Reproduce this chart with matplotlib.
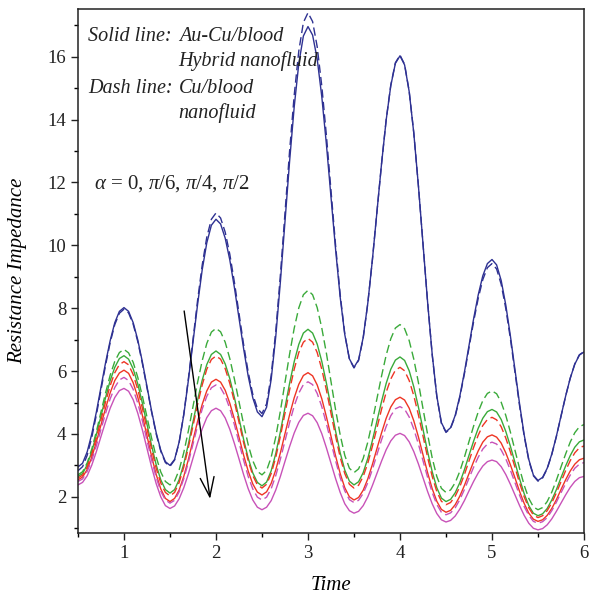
import numpy as np
import matplotlib
matplotlib.use('Agg')
import matplotlib.pyplot as plt
from matplotlib.ticker import MultipleLocator

plt.rcParams['font.family'] = ['Liberation Serif', 'DejaVu Serif']
plt.rcParams['mathtext.fontset'] = 'custom'
plt.rcParams['mathtext.rm'] = 'Liberation Serif'
plt.rcParams['mathtext.it'] = 'Liberation Serif:italic'

# time axis, step 0.05 (111 points)
time = np.linspace(0.5, 6.0, 111)

# blue pair: alpha = 0
blue_solid = [2.95, 3.07, 3.43, 4.00, 4.70, 5.49, 6.27, 6.97, 7.54, 7.90, 8.02,
              7.90, 7.54, 6.99, 6.29, 5.51, 4.73, 4.04, 3.48, 3.12, 3.00,
              3.19, 3.75, 4.61, 5.71, 6.92, 8.12, 9.22, 10.08, 10.64, 10.83,
              10.68, 10.23, 9.54, 8.66, 7.69, 6.72, 5.84, 5.15, 4.70, 4.55,
              4.85, 5.74, 7.11, 8.84, 10.76, 12.67, 14.40, 15.78, 16.66, 16.96,
              16.69, 15.93, 14.73, 13.22, 11.54, 9.87, 8.35, 7.16, 6.39, 6.12,
              6.36, 7.07, 8.16, 9.54, 11.08, 12.61, 13.99, 15.08, 15.79, 16.03,
              15.74, 14.89, 13.57, 11.90, 10.05, 8.20, 6.54, 5.21, 4.36, 4.07,
              4.20, 4.59, 5.20, 5.96, 6.81, 7.66, 8.42, 9.03, 9.42, 9.55,
              9.38, 8.88, 8.10, 7.12, 6.04, 4.95, 3.97, 3.19, 2.69, 2.52,
              2.62, 2.91, 3.36, 3.93, 4.57, 5.20, 5.77, 6.22, 6.51, 6.61]
blue_dash = [2.83, 2.96, 3.32, 3.89, 4.61, 5.40, 6.19, 6.91, 7.48, 7.84, 7.97,
             7.85, 7.49, 6.94, 6.24, 5.47, 4.70, 4.00, 3.45, 3.09, 2.97,
             3.17, 3.74, 4.63, 5.76, 7.00, 8.25, 9.37, 10.26, 10.83, 11.03,
             10.87, 10.42, 9.72, 8.83, 7.84, 6.85, 5.97, 5.26, 4.81, 4.65,
             4.96, 5.87, 7.28, 9.06, 11.03, 13.00, 14.77, 16.18, 17.09, 17.40,
             17.12, 16.32, 15.07, 13.50, 11.75, 10.00, 8.43, 7.18, 6.38, 6.10,
             6.34, 7.05, 8.15, 9.54, 11.08, 12.61, 14.00, 15.10, 15.81, 16.05,
             15.76, 14.90, 13.58, 11.90, 10.05, 8.20, 6.52, 5.20, 4.34, 4.05,
             4.18, 4.56, 5.16, 5.91, 6.74, 7.57, 8.31, 8.91, 9.29, 9.42,
             9.25, 8.76, 7.99, 7.03, 5.96, 4.89, 3.93, 3.16, 2.67, 2.50,
             2.60, 2.89, 3.35, 3.92, 4.56, 5.20, 5.77, 6.23, 6.52, 6.62]
green_dash = [2.70, 2.80, 3.08, 3.52, 4.08, 4.70, 5.31, 5.87, 6.31, 6.59, 6.69,
              6.58, 6.28, 5.80, 5.20, 4.54, 3.87, 3.27, 2.79, 2.49, 2.38,
              2.50, 2.86, 3.41, 4.10, 4.87, 5.64, 6.33, 6.88, 7.24, 7.36,
              7.25, 6.92, 6.40, 5.75, 5.03, 4.31, 3.66, 3.15, 2.81, 2.70,
              2.84, 3.26, 3.91, 4.73, 5.64, 6.54, 7.36, 8.01, 8.43, 8.57,
              8.43, 8.02, 7.37, 6.57, 5.67, 4.77, 3.97, 3.32, 2.91, 2.77,
              2.89, 3.22, 3.74, 4.40, 5.13, 5.85, 6.51, 7.03, 7.37, 7.48,
              7.35, 6.97, 6.38, 5.64, 4.81, 3.99, 3.24, 2.65, 2.27, 2.14,
              2.22, 2.45, 2.81, 3.26, 3.76, 4.25, 4.70, 5.06, 5.29, 5.37,
              5.28, 5.01, 4.59, 4.06, 3.48, 2.90, 2.37, 1.95, 1.68, 1.59,
              1.66, 1.85, 2.15, 2.53, 2.95, 3.36, 3.74, 4.04, 4.23, 4.30]
green_solid = [2.65, 2.74, 3.02, 3.44, 3.98, 4.57, 5.16, 5.70, 6.12, 6.40, 6.49,
               6.38, 6.07, 5.59, 4.98, 4.31, 3.63, 3.02, 2.54, 2.23, 2.12,
               2.23, 2.55, 3.05, 3.68, 4.38, 5.08, 5.71, 6.21, 6.53, 6.64,
               6.53, 6.23, 5.76, 5.16, 4.50, 3.83, 3.23, 2.76, 2.46, 2.35,
               2.47, 2.83, 3.38, 4.07, 4.84, 5.61, 6.30, 6.85, 7.21, 7.33,
               7.21, 6.86, 6.31, 5.62, 4.86, 4.09, 3.40, 2.85, 2.50, 2.38,
               2.48, 2.77, 3.22, 3.79, 4.42, 5.04, 5.61, 6.06, 6.35, 6.45,
               6.34, 6.01, 5.50, 4.86, 4.15, 3.44, 2.80, 2.29, 1.96, 1.85,
               1.92, 2.13, 2.45, 2.86, 3.32, 3.77, 4.18, 4.50, 4.71, 4.78,
               4.70, 4.46, 4.08, 3.61, 3.09, 2.57, 2.10, 1.72, 1.48, 1.40,
               1.46, 1.63, 1.90, 2.23, 2.61, 2.98, 3.31, 3.58, 3.75, 3.81]
red_dash = [2.60, 2.69, 2.95, 3.36, 3.88, 4.45, 5.02, 5.54, 5.95, 6.21, 6.30,
            6.20, 5.89, 5.42, 4.82, 4.17, 3.51, 2.91, 2.44, 2.14, 2.03,
            2.14, 2.46, 2.95, 3.57, 4.26, 4.94, 5.56, 6.06, 6.37, 6.48,
            6.38, 6.08, 5.61, 5.03, 4.38, 3.73, 3.15, 2.68, 2.38, 2.28,
            2.40, 2.74, 3.26, 3.93, 4.66, 5.40, 6.06, 6.59, 6.92, 7.04,
            6.92, 6.59, 6.06, 5.40, 4.66, 3.93, 3.26, 2.74, 2.40, 2.28,
            2.37, 2.65, 3.07, 3.61, 4.20, 4.79, 5.33, 5.75, 6.03, 6.12,
            6.01, 5.70, 5.22, 4.61, 3.94, 3.26, 2.65, 2.17, 1.86, 1.75,
            1.82, 2.02, 2.32, 2.71, 3.14, 3.57, 3.96, 4.27, 4.46, 4.53,
            4.45, 4.23, 3.87, 3.43, 2.94, 2.44, 2.00, 1.65, 1.42, 1.34,
            1.40, 1.56, 1.81, 2.13, 2.48, 2.83, 3.15, 3.40, 3.56, 3.62]
red_solid = [2.54, 2.63, 2.87, 3.26, 3.75, 4.29, 4.82, 5.31, 5.70, 5.94, 6.03,
             5.93, 5.63, 5.17, 4.59, 3.94, 3.29, 2.71, 2.25, 1.95, 1.85,
             1.95, 2.22, 2.65, 3.19, 3.80, 4.40, 4.94, 5.37, 5.65, 5.74,
             5.65, 5.39, 4.98, 4.47, 3.90, 3.33, 2.82, 2.41, 2.15, 2.06,
             2.16, 2.43, 2.86, 3.40, 4.01, 4.61, 5.15, 5.58, 5.86, 5.95,
             5.85, 5.56, 5.12, 4.55, 3.93, 3.30, 2.74, 2.29, 2.00, 1.90,
             1.98, 2.21, 2.57, 3.03, 3.54, 4.04, 4.50, 4.86, 5.09, 5.17,
             5.08, 4.82, 4.42, 3.91, 3.34, 2.77, 2.26, 1.86, 1.60, 1.51,
             1.57, 1.75, 2.02, 2.36, 2.74, 3.12, 3.46, 3.74, 3.91, 3.97,
             3.90, 3.71, 3.40, 3.02, 2.60, 2.17, 1.79, 1.48, 1.29, 1.22,
             1.27, 1.41, 1.63, 1.91, 2.23, 2.54, 2.82, 3.04, 3.18, 3.23]
magenta_dash = [2.49, 2.57, 2.81, 3.17, 3.63, 4.15, 4.66, 5.12, 5.48, 5.72, 5.80,
                5.70, 5.42, 4.98, 4.42, 3.80, 3.18, 2.62, 2.18, 1.90, 1.80,
                1.89, 2.16, 2.58, 3.10, 3.68, 4.26, 4.79, 5.20, 5.47, 5.56,
                5.47, 5.21, 4.81, 4.30, 3.73, 3.17, 2.65, 2.25, 1.99, 1.90,
                1.99, 2.26, 2.68, 3.20, 3.78, 4.36, 4.89, 5.30, 5.57, 5.66,
                5.57, 5.29, 4.87, 4.33, 3.74, 3.15, 2.61, 2.19, 1.91, 1.82,
                1.89, 2.11, 2.45, 2.87, 3.35, 3.82, 4.24, 4.58, 4.80, 4.87,
                4.79, 4.54, 4.16, 3.68, 3.15, 2.62, 2.14, 1.76, 1.51, 1.43,
                1.49, 1.65, 1.91, 2.23, 2.59, 2.94, 3.26, 3.52, 3.68, 3.74,
                3.68, 3.49, 3.21, 2.85, 2.45, 2.05, 1.69, 1.41, 1.22, 1.16,
                1.21, 1.34, 1.56, 1.83, 2.13, 2.42, 2.69, 2.91, 3.04, 3.09]
magenta_solid = [2.38, 2.46, 2.67, 3.01, 3.44, 3.92, 4.39, 4.82, 5.16, 5.38, 5.45,
                 5.36, 5.09, 4.66, 4.13, 3.54, 2.95, 2.42, 2.00, 1.72, 1.63,
                 1.71, 1.94, 2.29, 2.73, 3.23, 3.72, 4.16, 4.52, 4.74, 4.82,
                 4.74, 4.51, 4.15, 3.70, 3.21, 2.71, 2.26, 1.90, 1.67, 1.59,
                 1.67, 1.88, 2.22, 2.65, 3.13, 3.60, 4.03, 4.37, 4.59, 4.66,
                 4.58, 4.36, 4.01, 3.56, 3.07, 2.58, 2.14, 1.78, 1.56, 1.48,
                 1.54, 1.72, 2.00, 2.36, 2.75, 3.14, 3.50, 3.78, 3.96, 4.02,
                 3.95, 3.75, 3.44, 3.05, 2.61, 2.17, 1.78, 1.47, 1.27, 1.20,
                 1.25, 1.39, 1.61, 1.88, 2.19, 2.49, 2.76, 2.98, 3.12, 3.17,
                 3.12, 2.96, 2.71, 2.40, 2.06, 1.72, 1.41, 1.16, 1.00, 0.95,
                 0.99, 1.11, 1.30, 1.54, 1.80, 2.06, 2.30, 2.49, 2.61, 2.65]

c_blue = '#2e3192'
c_green = '#3aaa3a'
c_red = '#ee3524'
c_mag = '#c852b8'

fig = plt.figure(figsize=(5.89, 5.97), dpi=100)
ax = fig.add_axes([0.1324, 0.1072, 0.8591, 0.8778])

lw = 1.0
dash = (6, 3)
for ys, c in [(blue_solid, c_blue), (green_solid, c_green),
              (red_solid, c_red), (magenta_solid, c_mag)]:
    ax.plot(time, ys, color=c, lw=lw)
for ys, c in [(blue_dash, c_blue), (green_dash, c_green),
              (red_dash, c_red), (magenta_dash, c_mag)]:
    ax.plot(time, ys, color=c, lw=lw, dashes=dash)

ax.set_xlim(0.5, 6.0)
ax.set_ylim(0.85, 17.52)
ax.xaxis.set_major_locator(MultipleLocator(1))
ax.xaxis.set_minor_locator(MultipleLocator(0.5))
ax.yaxis.set_major_locator(MultipleLocator(2))
ax.yaxis.set_minor_locator(MultipleLocator(1))
ax.tick_params(which='major', direction='out', length=5, width=1, labelsize=13.5,
               colors='#222222', top=False, right=False)
ax.tick_params(which='minor', direction='out', length=3, width=1,
               top=False, right=False)
for s in ax.spines.values():
    s.set_color('#222222')
    s.set_linewidth(1.1)

ax.set_xlabel('Time', fontstyle='italic', fontsize=15)
ax.set_ylabel('Resistance Impedance', fontstyle='italic', fontsize=15)
ax.xaxis.set_label_coords(0.5, -0.082)
ax.yaxis.set_label_coords(-0.10, 0.5)

tkw = dict(fontstyle='italic', fontsize=14.5, color='#222222', va='center',
           transform=ax.transAxes)
ax.text(0.020, 0.948, 'Solid line:', **tkw)
ax.text(0.199, 0.948, 'Au-Cu/blood', **tkw)
ax.text(0.199, 0.900, 'Hybrid nanofluid', **tkw)
ax.text(0.020, 0.849, 'Dash line:', **tkw)
ax.text(0.199, 0.849, 'Cu/blood', **tkw)
ax.text(0.199, 0.801, 'nanofluid', **tkw)
ax.text(0.032, 0.667, r'$\alpha$ = 0, $\pi$/6, $\pi$/4, $\pi$/2', fontsize=15,
        color='#222222', va='center', transform=ax.transAxes)

ax.annotate('', xy=(1.94, 1.85), xytext=(1.65, 8.0),
            arrowprops=dict(arrowstyle='->,head_length=1.4,head_width=0.5',
                            color='black', lw=1.0))

fig.savefig('out.png', dpi=100)
